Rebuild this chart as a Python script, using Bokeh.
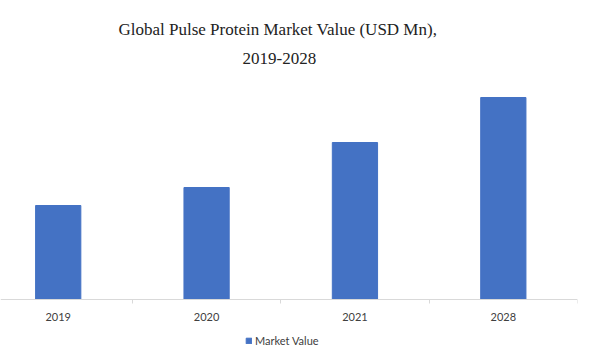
from bokeh.plotting import figure
from bokeh.models import Range1d, FixedTicker, Legend, LegendItem, Title
from bokeh.embed import file_html
from bokeh.resources import INLINE

categories = ["2019", "2020", "2021", "2028"]
market_value = [940, 1120, 1570, 2020]
series_name = "Market Value"
title_line1 = "Global Pulse Protein Market Value (USD Mn),"
title_line2 = "2019-2028"

positions = list(range(len(categories)))

p = figure(width=613, height=352, output_backend="svg", toolbar_location=None,
           x_range=Range1d(-0.389, len(categories) - 0.5), y_range=Range1d(-530, 2240),
           min_border_left=0, min_border_right=36, min_border_top=75, min_border_bottom=0)
p.outline_line_color = None
p.xgrid.visible = False
p.ygrid.visible = False
p.yaxis.visible = False

r = p.vbar(x=positions, top=market_value, width=0.305, color="#4472C4")

ax = p.xaxis[0]
ax.fixed_location = 0
ax.ticker = FixedTicker(ticks=positions, minor_ticks=[i + 0.5 for i in positions])
ax.major_label_overrides = {i: c for i, c in zip(positions, categories)}
ax.axis_line_color = "#D9D9D9"
ax.major_tick_in = 0
ax.major_tick_out = 0
ax.minor_tick_in = 0
ax.minor_tick_out = 4
ax.minor_tick_line_color = "#D9D9D9"
ax.major_label_standoff = 9
ax.major_label_text_font = "Lato"
ax.major_label_text_font_size = "11px"
ax.major_label_text_color = "#404040"

p.add_layout(Title(text=title_line2, align="left", text_font="Liberation Serif",
                   text_font_size="17px", text_font_style="normal", text_color="#222222",
                   text_line_height=0.9, offset=242, standoff=24), "above")
p.add_layout(Title(text=title_line1, align="left", text_font="Liberation Serif",
                   text_font_size="17px", text_font_style="normal", text_color="#222222",
                   text_line_height=0.9, offset=118, standoff=0), "above")

legend = Legend(items=[LegendItem(label=series_name, renderers=[r])],
                location=(245, 5), orientation="horizontal",
                glyph_width=7, glyph_height=7, label_text_font="Lato",
                label_text_font_size="11px", label_text_color="#404040",
                label_standoff=3, border_line_color=None, background_fill_alpha=0,
                padding=2, margin=0)
p.add_layout(legend, "center")

open("out.html", "w").write(file_html(p, INLINE))
